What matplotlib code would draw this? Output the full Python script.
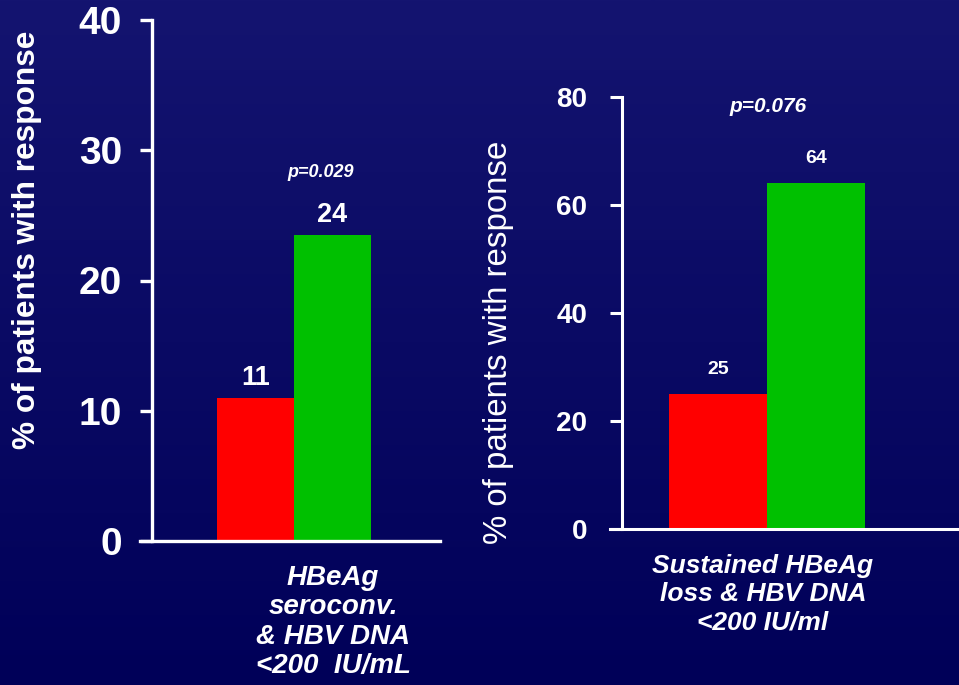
import numpy as np
import matplotlib
matplotlib.use('Agg')
import matplotlib.pyplot as plt

# left panel: HBeAg seroconversion & HBV DNA
left_values = [11, 23.5]
left_labels = ['11', '24']
left_ticks = [0, 10, 20, 30, 40]
left_p = 'p=0.029'
left_cat = 'HBeAg\nseroconv.\n& HBV DNA\n<200  IU/mL'

# right panel: sustained HBeAg loss
right_values = [25, 64]
right_labels = ['25', '64']
right_ticks = [0, 20, 40, 60, 80]
right_p = 'p=0.076'
right_cat = 'Sustained HBeAg\nloss & HBV DNA\n<200 IU/ml'

bar_colors = ['#ff0000', '#00c000']
ylabel = '% of patients with response'

plt.rcParams['font.family'] = ['Liberation Sans', 'DejaVu Sans']

W, H = 959, 685
fig = plt.figure(figsize=(W / 100, H / 100), dpi=100)

# navy gradient background
bg = fig.add_axes([0, 0, 1, 1])
grad = np.linspace(0, 1, 256).reshape(-1, 1)
top = np.array([0x14, 0x14, 0x70]) / 255
bot = np.array([0x00, 0x00, 0x58]) / 255
img = top + (bot - top) * grad[..., None]
bg.imshow(img, aspect='auto', extent=[0, 1, 0, 1])
bg.axis('off')


def px_axes(x0, x1, ytop, ybot):
    return fig.add_axes([x0 / W, 1 - ybot / H, (x1 - x0) / W, (ybot - ytop) / H])


def panel(ax, values, ticks, xlim, spine_x, tick_size, lw, pad):
    ax.patch.set_alpha(0)
    ax.bar([0, 1], values, width=1.0, color=bar_colors, edgecolor='none')
    ax.set_xlim(*xlim)
    ax.set_ylim(ticks[0], ticks[-1])
    ax.set_yticks(ticks)
    ax.set_xticks([])
    for s in ['top', 'right']:
        ax.spines[s].set_visible(False)
    ax.spines['left'].set_position(('data', spine_x))
    ax.spines['left'].set_color('white')
    ax.spines['bottom'].set_color('white')
    ax.spines['left'].set_linewidth(lw)
    ax.spines['bottom'].set_linewidth(lw)
    ax.tick_params(axis='y', colors='white', length=8.5, width=lw, pad=pad,
                   labelsize=tick_size)
    for t in ax.get_yticklabels():
        t.set_fontweight('bold')


# left chart
ax1 = px_axes(140, 440, 20, 541)
panel(ax1, left_values, left_ticks, (-1.5, 2.396), -1.344, 28, 2.4, 13)
for i, (v, lab) in enumerate(zip(left_values, left_labels)):
    ax1.text(i, v + 0.5, lab, ha='center', va='bottom', color='white',
             fontsize=19.5, fontweight='bold')
ax1.text(0.85, 28.3, left_p, ha='center', va='center', color='white',
         fontsize=13, fontweight='bold', style='italic')
fig.text(27 / W, 1 - 240 / H, ylabel, rotation=90, ha='center', va='center',
         color='white', fontsize=22.8, fontweight='bold')
fig.text(333 / W, 1 - 622 / H, left_cat, ha='center', va='center',
         color='white', fontsize=20, fontweight='bold', style='italic',
         linespacing=1.17)

# right chart
ax2 = px_axes(610, 960, 97, 529)
panel(ax2, right_values, right_ticks, (-1.102, 2.469), -0.98, 20, 2.2, 16.5)
for i, (v, lab) in enumerate(zip(right_values, right_labels)):
    ax2.text(i, v + 3, lab, ha='center', va='bottom', color='white',
             fontsize=14, fontweight='bold')
ax2.text(0.51, 78.3, right_p, ha='center', va='center', color='white',
         fontsize=15, fontweight='bold', style='italic')
fig.text(498 / W, 1 - 342 / H, ylabel, rotation=90, ha='center', va='center',
         color='white', fontsize=23.8)
fig.text(763 / W, 1 - 594 / H, right_cat, ha='center', va='center',
         color='white', fontsize=19, fontweight='bold', style='italic',
         linespacing=1.22)

fig.savefig('out.png', dpi=100)
